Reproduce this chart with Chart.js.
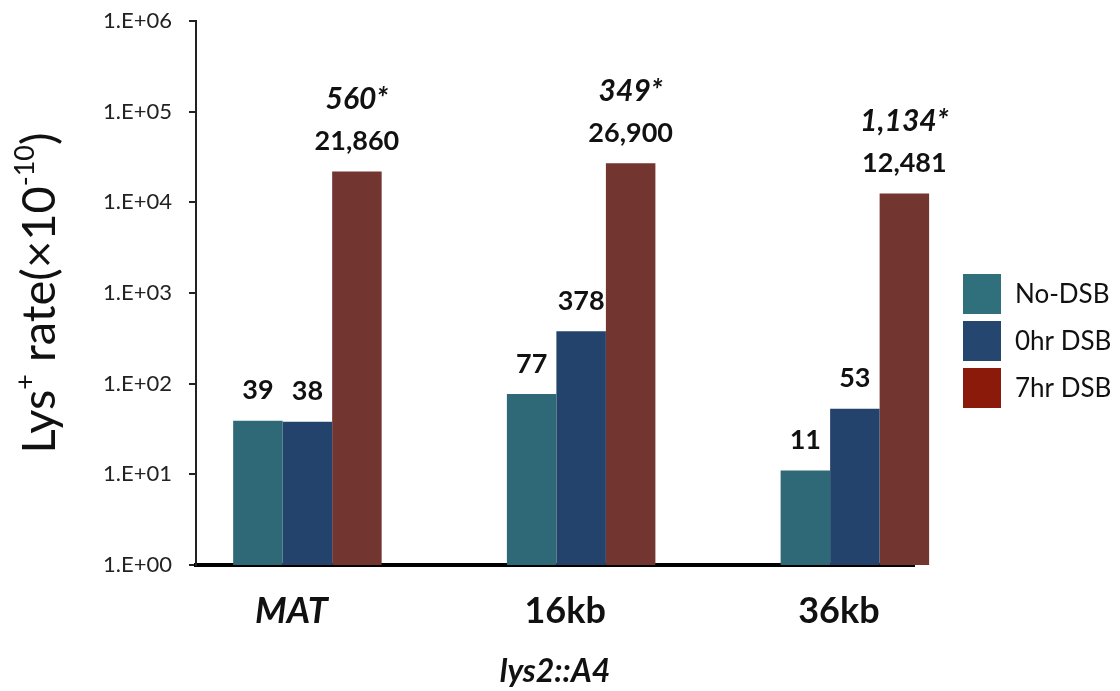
<!DOCTYPE html>
<html>
<head>
<meta charset="utf-8">
<title>Lys+ rate</title>
<script src="https://cdn.jsdelivr.net/npm/chart.js@4.4.1/dist/chart.umd.min.js"></script>
<style>
  html, body { margin: 0; padding: 0; background: #fff; }
  #wrap { width: 1120px; height: 691px; }
</style>
</head>
<body>
<div id="wrap"><canvas id="rateChart" width="1120" height="691"></canvas></div>
<script>
// Lys+ rates (x10^-10) at MAT and at 16kb / 36kb away
var categories = ['MAT', '16kb', '36kb'];
var seriesNames = ['No-DSB', '0hr DSB', '7hr DSB'];
var noDsb = [39, 77, 11];
var zeroHrDsb = [38, 378, 53];
var sevenHrDsb = [21860, 26900, 12481];
var foldIncrease = [560, 349, 1134];
var yTickValues = [1, 10, 100, 1000, 10000, 100000, 1000000];
var yTickLabels = ['1.E+00', '1.E+01', '1.E+02', '1.E+03', '1.E+04', '1.E+05', '1.E+06'];

var barColors = ['#2f6977', '#24436c', '#733530'];
var swatchColors = ['#30707c', '#25466f', '#8c1a0b'];
var FONT = 'Lato, "Open Sans", sans-serif';

// x range around the three groups (group index units)
var X_MIN = -0.407, X_MAX = 2.216;

function points(values) {
    return values.map(function(v, i) { return { x: i, y: v }; });
}

// numbers above each bar, plus the starred fold increase over the 7hr bars
var barLabels = {
    id: 'barLabels',
    afterDatasetsDraw: function(chart) {
        var c = chart.ctx;
        c.save();
        c.fillStyle = '#111';
        c.textAlign = 'center';
        c.textBaseline = 'middle';
        chart.data.datasets.forEach(function(ds, d) {
            chart.getDatasetMeta(d).data.forEach(function(bar, i) {
                c.font = 'bold 27px ' + FONT;
                c.fillText(ds.data[i].y.toLocaleString('en-US'), bar.x, bar.y - 30);
                if (d === 2) {
                    c.font = 'italic bold 30px ' + FONT;
                    c.fillText(foldIncrease[i].toLocaleString('en-US') + '*', bar.x, bar.y - 72);
                }
            });
        });
        c.restore();
    }
};

// rotated y title with superscripts
var yTitle = {
    id: 'yTitle',
    afterDraw: function(chart) {
        var c = chart.ctx, area = chart.chartArea;
        var parts = [['Lys', 0], ['+', 1], [' rate(\u00d710', 0], ['-10', 1], [')', 0]];
        var big = '47px ' + FONT, small = '27px ' + FONT;
        c.save();
        c.translate(40, (area.top + area.bottom) / 2);
        c.rotate(-Math.PI / 2);
        c.fillStyle = '#111';
        c.textBaseline = 'middle';
        var total = 0;
        parts.forEach(function(p) {
            c.font = p[1] ? small : big;
            total += c.measureText(p[0]).width;
        });
        var x = -total / 2;
        parts.forEach(function(p) {
            c.font = p[1] ? small : big;
            c.fillText(p[0], x, p[1] ? -15 : 0);
            x += c.measureText(p[0]).width;
        });
        c.restore();
    }
};

// legend on the right, square swatches
var sideLegend = {
    id: 'sideLegend',
    afterDraw: function(chart) {
        var c = chart.ctx;
        c.save();
        c.font = '26px ' + FONT;
        c.textBaseline = 'middle';
        chart.data.datasets.forEach(function(ds, i) {
            var top = 274 + i * 47;
            c.fillStyle = swatchColors[i];
            c.fillRect(963, top, 38, 40);
            c.fillStyle = '#111';
            c.fillText(ds.label, 1015, top + 21);
        });
        c.restore();
    }
};

var ctx = document.getElementById('rateChart').getContext('2d');
new Chart(ctx, {
    type: 'bar',
    data: {
        datasets: [noDsb, zeroHrDsb, sevenHrDsb].map(function(values, i) {
            return {
                label: seriesNames[i],
                data: points(values),
                backgroundColor: barColors[i],
                borderWidth: 0,
                clip: false
            };
        })
    },
    options: {
        responsive: false,
        animation: false,
        layout: { padding: { top: 21, right: 206, bottom: 0, left: 0 } },
        datasets: { bar: { categoryPercentage: 0.5425, barPercentage: 1.0 } },
        plugins: {
            legend: { display: false },
            tooltip: { enabled: false }
        },
        scales: {
            x: {
                type: 'linear',
                min: X_MIN,
                max: X_MAX,
                bounds: 'data',
                offset: false,
                z: 1,
                afterBuildTicks: function(scale) {
                    scale.min = X_MIN;
                    scale.max = X_MAX;
                    scale.ticks = categories.map(function(c, i) { return { value: i }; });
                },
                afterFit: function(scale) { scale.height = 126; },
                grid: { display: false, offset: false },
                border: { display: true, color: '#000', width: 4 },
                ticks: {
                    includeBounds: false,
                    padding: 17,
                    labelOffset: -16,
                    color: '#111',
                    callback: function(value) { return categories[value]; },
                    font: function(context) {
                        var italic = categories[context.index] === 'MAT';
                        return { family: FONT, size: 36, weight: 'bold', style: italic ? 'italic' : 'normal' };
                    }
                },
                title: {
                    display: true,
                    text: 'lys2::A4',
                    color: '#111',
                    padding: 0,
                    font: { family: FONT, size: 32, weight: 'bold', style: 'italic' }
                }
            },
            y: {
                type: 'logarithmic',
                min: 1,
                max: 1000000,
                afterBuildTicks: function(scale) {
                    scale.ticks = yTickValues.map(function(v) { return { value: v }; });
                },
                afterFit: function(scale) {
                    scale.width = 196;
                    // the top label only needs the layout padding
                    scale.paddingTop = 0;
                },
                grid: { drawOnChartArea: false, tickLength: 7, color: '#222', lineWidth: 2 },
                border: { color: '#222', width: 2 },
                ticks: {
                    padding: 17,
                    color: '#222',
                    font: { family: FONT, size: 22 },
                    callback: function(value) { return yTickLabels[yTickValues.indexOf(value)]; }
                }
            }
        }
    },
    plugins: [barLabels, yTitle, sideLegend]
});
</script>
</body>
</html>
